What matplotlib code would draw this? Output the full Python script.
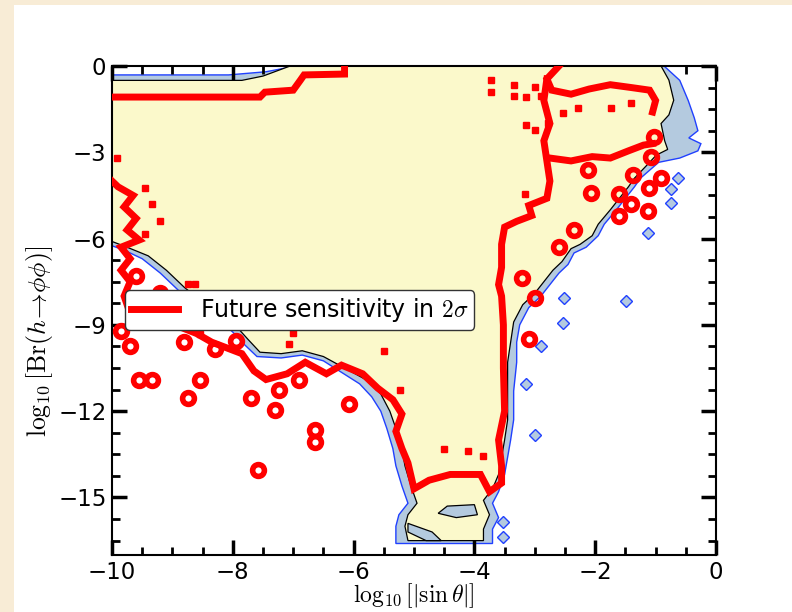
import matplotlib
matplotlib.use("Agg")
import matplotlib.pyplot as plt
from matplotlib.patches import Rectangle, Polygon

plt.rcParams['mathtext.fontset'] = 'cm'

# allowed region (black contour, yellow fill)
inner_x = [-10, -7.85, -7.5, -7.05, -0.91, -0.78, -0.7, -0.78, -0.91, -0.85, -0.8, -0.99, -1.1,
           -1.35, -1.45, -1.6, -1.75, -1.95, -2.05, -2.25, -2.4, -2.55, -2.7, -2.85, -3.0, -3.2,
           -3.35, -3.4, -3.45, -3.45, -3.45, -3.5, -3.55, -3.6, -3.7, -3.85, -3.75, -3.85, -3.85,
           -5.1, -5.15, -5.1, -4.95, -5.05, -5.15, -5.2, -5.3, -5.4, -5.55, -5.8, -6.15, -6.5,
           -6.85, -7.2, -7.55, -7.75, -7.9, -8.15, -8.5, -8.8, -9.1, -9.4, -9.75, -10]
inner_y = [-0.5, -0.5, -0.35, 0, 0, -0.49, -1.19, -1.7, -2.0, -2.6, -2.9, -3.1, -3.35,
           -3.9, -4.2, -4.6, -5.0, -5.5, -5.9, -6.2, -6.35, -6.8, -7.1, -7.5, -7.9, -8.3,
           -8.9, -9.6, -10.3, -11.3, -12.3, -13.0, -13.6, -14.2, -14.7, -15.1, -15.6, -16.1, -16.5,
           -16.5, -16.0, -15.6, -15.2, -14.6, -13.9, -13.3, -12.6, -12.0, -11.4, -10.9, -10.5, -10.1,
           -9.9, -10.0, -9.95, -9.5, -9.15, -8.7, -8.2, -7.7, -7.1, -6.6, -6.3, -6.1]

# outer contour (blue line, light blue fill)
outer_x = [-10, -8.07, -7.45, -6.95, -0.86, -0.6, -0.46, -0.36, -0.3, -0.45, -0.25, -0.3, -0.6,
           -0.95, -1.25, -1.35, -1.5, -1.65, -1.85, -1.95, -2.15, -2.35, -2.45, -2.6, -2.75, -2.9,
           -3.1, -3.25, -3.3, -3.3, -3.35, -3.35, -3.4, -3.45, -3.5, -3.6, -3.7, -3.6, -3.7, -3.7,
           -5.3, -5.3, -5.25, -5.1, -5.2, -5.3, -5.35, -5.45, -5.55, -5.7, -5.9, -6.2, -6.5,
           -6.85, -7.2, -7.6, -7.85, -8.0, -8.25, -8.6, -8.9, -9.2, -9.5, -9.8, -10]
outer_y = [-0.31, -0.31, -0.2, 0, 0, -0.5, -1.2, -1.8, -2.25, -2.5, -2.7, -2.95, -3.2,
           -3.35, -3.9, -4.2, -4.6, -5.0, -5.5, -5.9, -6.3, -6.5, -6.9, -7.2, -7.6, -8.0,
           -8.4, -9.0, -9.6, -10.3, -11.3, -12.3, -13.0, -13.6, -14.2, -14.8, -15.2, -15.7, -16.1, -16.6,
           -16.6, -16.0, -15.6, -15.2, -14.6, -13.9, -13.3, -12.6, -12.0, -11.5, -11.05, -10.65, -10.25,
           -10.05, -10.15, -10.1, -9.6, -9.25, -8.8, -8.3, -7.8, -7.2, -6.7, -6.4, -6.25]

# light blue holes inside the bottom finger
hole1_x = [-4.45, -4.0, -3.95, -4.3, -4.6]
hole1_y = [-15.3, -15.25, -15.6, -15.7, -15.55]
hole2_x = [-5.1, -4.7, -4.55, -4.8, -5.1]
hole2_y = [-15.9, -16.2, -16.5, -16.5, -16.2]

# future sensitivity (2 sigma) contour pieces
red_a_x = [-10, -7.55, -7.47, -7.0, -6.88, -6.82, -6.15, -6.15]
red_a_y = [-1.08, -1.08, -0.91, -0.84, -0.49, -0.31, -0.28, 0]

red_top_x = [-2.6, -2.8, -2.72, -2.4, -2.1, -1.75, -1.4, -1.1, -1.0, -1.05]
red_top_y = [0, -0.45, -0.84, -0.98, -0.8, -0.65, -0.75, -0.84, -1.2, -1.6]

red_b_x = [-2.8, -2.85, -2.75, -2.85, -2.8, -2.75, -2.8, -3.1, -3.05, -3.3, -3.5, -3.55, -3.55,
           -3.6, -3.55, -3.52, -3.52, -3.5, -3.6, -3.55, -3.55, -3.75, -3.9, -4.4, -4.75, -5.0,
           -5.1, -5.2, -5.3, -5.2, -5.35, -5.6, -5.85, -6.2, -6.45, -6.8, -7.1, -7.45, -7.65,
           -7.85, -8.1, -8.35, -8.6, -8.9, -9.2, -9.5, -9.7, -9.8, -9.7, -9.85, -9.7, -9.85,
           -9.55, -9.75, -9.6, -9.8, -9.65, -9.9, -10]
red_b_y = [-0.45, -1.2, -2.0, -2.6, -3.3, -4.0, -4.6, -4.85, -5.2, -5.4, -5.6, -6.2, -7.0,
           -7.6, -8.0, -9.0, -10.5, -12.0, -13.0, -13.9, -14.5, -14.8, -14.2, -14.2, -14.4, -14.7,
           -13.8, -13.3, -12.7, -12.1, -11.6, -11.2, -10.7, -10.4, -10.7, -10.3, -10.7, -10.9, -10.6,
           -10.0, -9.8, -9.6, -9.3, -9.05, -8.9, -8.8, -8.6, -8.0, -7.5, -7.1, -6.7, -6.3,
           -6.05, -5.7, -5.3, -4.9, -4.5, -4.2, -4.0]

red_d_x = [-2.75, -2.4, -2.05, -1.75, -1.45, -1.2, -1.05]
red_d_y = [-3.2, -3.3, -3.15, -3.2, -2.95, -2.75, -2.7]

# small closed red islands
ring_x = [-9.7, -9.55, -9.34, -8.74, -8.55, -7.7, -7.24, -7.3, -6.64, -6.64, -7.59, -6.07, -6.9,
          -2.12, -2.07, -1.6, -1.37, -1.4, -1.12, -1.6, -1.11, -0.91, -1.02, -1.07, -3.22, -3.0, -3.1,
          -9.6, -9.2, -8.8, -8.3, -7.95, -9.85, -2.6, -2.35]
ring_y = [-9.75, -10.9, -10.9, -11.53, -10.9, -11.53, -11.28, -11.95, -12.64, -13.06, -14.04, -11.74, -10.9,
          -3.63, -4.4, -4.44, -3.8, -4.79, -5.03, -5.2, -4.23, -3.88, -2.48, -3.18, -7.37, -8.07, -9.5,
          -7.3, -7.9, -9.6, -9.85, -9.55, -9.2, -6.3, -5.7]

# tiny red cells
dot_x = [-3.72, -3.72, -3.34, -3.34, -3.14, -3.0, -2.89, -2.53, -3.14, -3.0, -2.78, -3.17, -2.28,
         -1.74, -1.4, -7.0, -7.07, -5.49, -5.24, -9.45, -9.34, -9.2, -9.45, -9.92, -8.63, -8.75,
         -9.3, -9.0, -8.55, -4.1, -4.5, -3.85]
dot_y = [-0.49, -0.91, -0.66, -1.05, -1.08, -0.73, -1.05, -1.64, -2.06, -2.24, -1.99, -4.44, -1.47,
         -1.47, -1.3, -9.29, -9.67, -9.92, -11.25, -4.23, -4.79, -5.38, -5.83, -3.21, -7.58, -7.58,
         -8.45, -8.75, -9.3, -13.4, -13.3, -13.55]

# small light blue islands outside
isl_x = [-0.63, -0.74, -0.74, -1.12, -1.49, -2.51, -2.53, -2.89, -3.14, -3.0, -3.52, -3.52]
isl_y = [-3.88, -4.26, -4.75, -5.8, -8.17, -8.07, -8.94, -9.75, -11.07, -12.82, -15.86, -16.38]

fig = plt.figure(figsize=(7.92, 6.12), dpi=100)
fig.patch.set_facecolor('#f8ecd6')
fig.patches.append(Rectangle((14 / 792, 0), 1, 1 - 5 / 612, transform=fig.transFigure,
                             facecolor='white', edgecolor='none', zorder=-10))

ax = fig.add_axes([112 / 792, 57 / 612, 604 / 792, 489 / 612])
ax.set_facecolor('white')

lblue = '#b4cadf'
yellow = '#fbf9cb'

ax.add_patch(Polygon(list(zip(outer_x, outer_y)), closed=True, facecolor=lblue,
                     edgecolor='#2040ff', lw=1.0, zorder=1))
ax.add_patch(Polygon(list(zip(inner_x, inner_y)), closed=True, facecolor=yellow,
                     edgecolor='black', lw=0.9, zorder=2))
for hx, hy in [(hole1_x, hole1_y), (hole2_x, hole2_y)]:
    ax.add_patch(Polygon(list(zip(hx, hy)), closed=True, facecolor=lblue,
                         edgecolor='black', lw=0.9, zorder=3))

ax.plot(isl_x, isl_y, ls='none', marker='D', ms=6, mfc=lblue, mec='#2040ff', mew=1.0, zorder=3)

red = '#ff0000'
ax.plot(red_a_x, red_a_y, color=red, lw=5, solid_joinstyle='miter', zorder=5,
        label=r'Future sensitivity in $2\sigma$')
for rx, ry in [(red_top_x, red_top_y), (red_b_x, red_b_y), (red_d_x, red_d_y)]:
    ax.plot(rx, ry, color=red, lw=5, solid_joinstyle='miter', zorder=5)
ax.plot(ring_x, ring_y, ls='none', marker='o', ms=8.5, mfc='none', mec=red, mew=4, zorder=5)
ax.plot(dot_x, dot_y, ls='none', marker='s', ms=5, color=red, zorder=5)

ax.set_xlim(-10, 0)
ax.set_ylim(-17, 0)
ax.set_xticks([-10, -8, -6, -4, -2, 0])
ax.set_yticks([0, -3, -6, -9, -12, -15])
ax.set_xticks([v * 0.5 - 10 for v in range(21)], minor=True)
ax.set_yticks([-0.75 * v for v in range(23)], minor=True)
ax.tick_params(which='both', direction='in', top=True, right=True, labelsize=16.5)
ax.tick_params(which='major', length=11, width=2.5, pad=4)
ax.tick_params(which='minor', length=6, width=2)
for s in ax.spines.values():
    s.set_linewidth(1.5)

ax.set_xlabel(r'$\log_{10}[|\sin\theta|]$', fontsize=17)
ax.xaxis.set_label_coords(0.5, -0.054)
ax.set_ylabel(r'$\log_{10}[{\rm Br}(h\!\rightarrow\!\phi\phi)]$', fontsize=18.5)
ax.yaxis.set_label_coords(-0.095, 0.437)

leg = ax.legend(loc='lower left', bbox_to_anchor=(0.022, 0.46), borderaxespad=0, fontsize=17,
                handlelength=2.0, handletextpad=0.9, borderpad=0.25, framealpha=1,
                edgecolor='#333333', fancybox=True)
leg.set_zorder(10)

fig.savefig('out.png', dpi=100, facecolor=fig.get_facecolor())
